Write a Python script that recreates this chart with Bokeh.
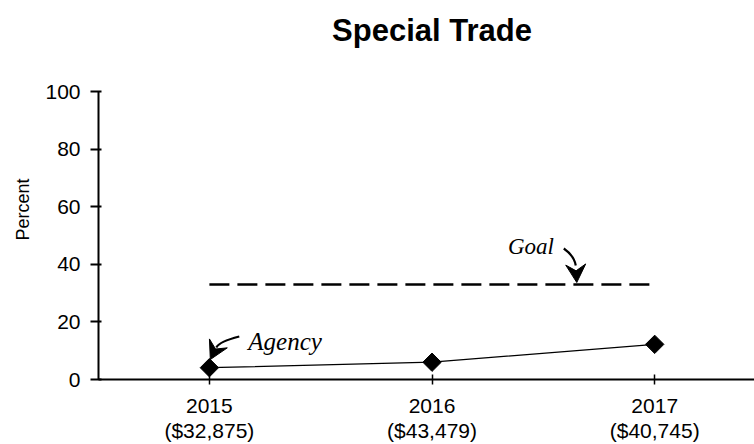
import math
from bokeh.plotting import figure
from bokeh.models import Range1d, FixedTicker, Label, Title
from bokeh.embed import file_html
from bokeh.resources import INLINE

# ---- data ----
years = [2015, 2016, 2017]
amounts = ["($32,875)", "($43,479)", "($40,745)"]
agency = [4.1, 6.0, 12.2]
goal = [33, 33]
goal_years = [2015, 2017]
y_ticks = [0, 20, 40, 60, 80, 100]
title_text = "Special Trade"
y_label = "Percent"

# ---- layout helpers (page pixel -> data) ----
X0, XLEFT_PX, XPX_PER = 2014.502, 97, 223.0
Y_BOTTOM_PX, YPX_PER = 379, 2.88

def px2x(px):
    return X0 + (px - XLEFT_PX) / XPX_PER

def py2y(py):
    return (Y_BOTTOM_PX - py) / YPX_PER

W, H = 754, 444
p = figure(width=W, height=H, output_backend="svg", toolbar_location=None,
           x_range=Range1d(X0, X0 + (W - XLEFT_PX) / XPX_PER),
           y_range=Range1d(0, py2y(0)),
           min_border_left=97, min_border_right=0, min_border_top=0,
           min_border_bottom=65)
p.outline_line_color = None
p.grid.visible = False
p.background_fill_color = "white"
p.border_fill_color = "white"

# axes
xa = p.xaxis[0]
xa.ticker = FixedTicker(ticks=years)
xa.major_label_overrides = {y: f"{y}\n{a}" for y, a in zip(years, amounts)}
xa.axis_line_width = 2
xa.axis_line_color = "black"
xa.major_tick_in = 5
xa.major_tick_out = 5
xa.major_tick_line_width = 1.5
xa.minor_tick_line_color = None
xa.major_label_text_font = "Liberation Sans"
xa.major_label_text_font_size = "21px"
xa.major_label_text_line_height = 1.1
xa.major_label_text_color = "black"
xa.major_label_standoff = 9

ya = p.yaxis[0]
ya.ticker = FixedTicker(ticks=y_ticks)
ya.bounds = (0, 100)
ya.axis_line_width = 2
ya.axis_line_color = "black"
ya.major_tick_in = 3
ya.major_tick_out = 8
ya.major_tick_line_width = 2
ya.minor_tick_line_color = None
ya.major_label_text_font = "Liberation Sans"
ya.major_label_text_font_size = "21px"
ya.major_label_text_color = "black"
ya.major_label_standoff = 10

# y label (left) as a Title
p.add_layout(Title(text=y_label, align="left", offset=139,
                   text_font="Liberation Sans", text_font_style="normal",
                   text_font_size="18px", text_color="black", standoff=20), "left")

# chart title inside the (extended) frame
p.add_layout(Label(x=px2x(431), y=py2y(30), text=title_text,
                   text_font="Liberation Sans", text_font_style="bold",
                   text_font_size="31px", text_align="center",
                   text_baseline="alphabetic", text_color="black"))

# goal line
p.line(goal_years, goal, line_color="black", line_width=2.5, line_dash="20 8")

# agency line + markers
p.line(years, agency, line_color="black", line_width=1.2)
p.scatter(years, agency, marker="square", size=13, angle=math.pi / 4,
          fill_color="black", line_color="black")

# annotations
p.add_layout(Label(x=px2x(247), y=py2y(341), text="Agency",
                   text_font="Liberation Serif", text_font_style="italic",
                   text_font_size="25px", text_baseline="alphabetic",
                   text_color="black"))
p.add_layout(Label(x=px2x(507), y=py2y(246), text="Goal",
                   text_font="Liberation Serif", text_font_style="italic",
                   text_font_size="23px", text_baseline="alphabetic",
                   text_color="black"))


def curved_arrow(pts, tip, head_len=18, head_w=10):
    (sx, sy), (c0x, c0y), (c1x, c1y), (ex, ey) = pts
    p.bezier(x0=[px2x(sx)], y0=[py2y(sy)], x1=[px2x(ex)], y1=[py2y(ey)],
             cx0=[px2x(c0x)], cy0=[py2y(c0y)], cx1=[px2x(c1x)], cy1=[py2y(c1y)],
             line_color="black", line_width=2.2)
    tx, ty = tip
    dx, dy = tx - ex, ty - ey
    n = math.hypot(dx, dy)
    dx, dy = dx / n, dy / n
    bx, by = tx - head_len * dx, ty - head_len * dy
    nx, ny = -dy, dx
    xs = [tx, bx + head_w * nx, bx + 0.35 * head_len * dx, bx - head_w * nx]
    ys = [ty, by + head_w * ny, by + 0.35 * head_len * dy, by - head_w * ny]
    p.patch([px2x(v) for v in xs], [py2y(v) for v in ys],
            fill_color="black", line_color="black", line_width=1)


curved_arrow([(238, 336), (226, 339), (217, 343), (215, 347)], (209, 359))
curved_arrow([(563, 248), (570, 253), (574, 259), (575, 265)], (576, 282))

open("out.html", "w").write(file_html(p, INLINE))
